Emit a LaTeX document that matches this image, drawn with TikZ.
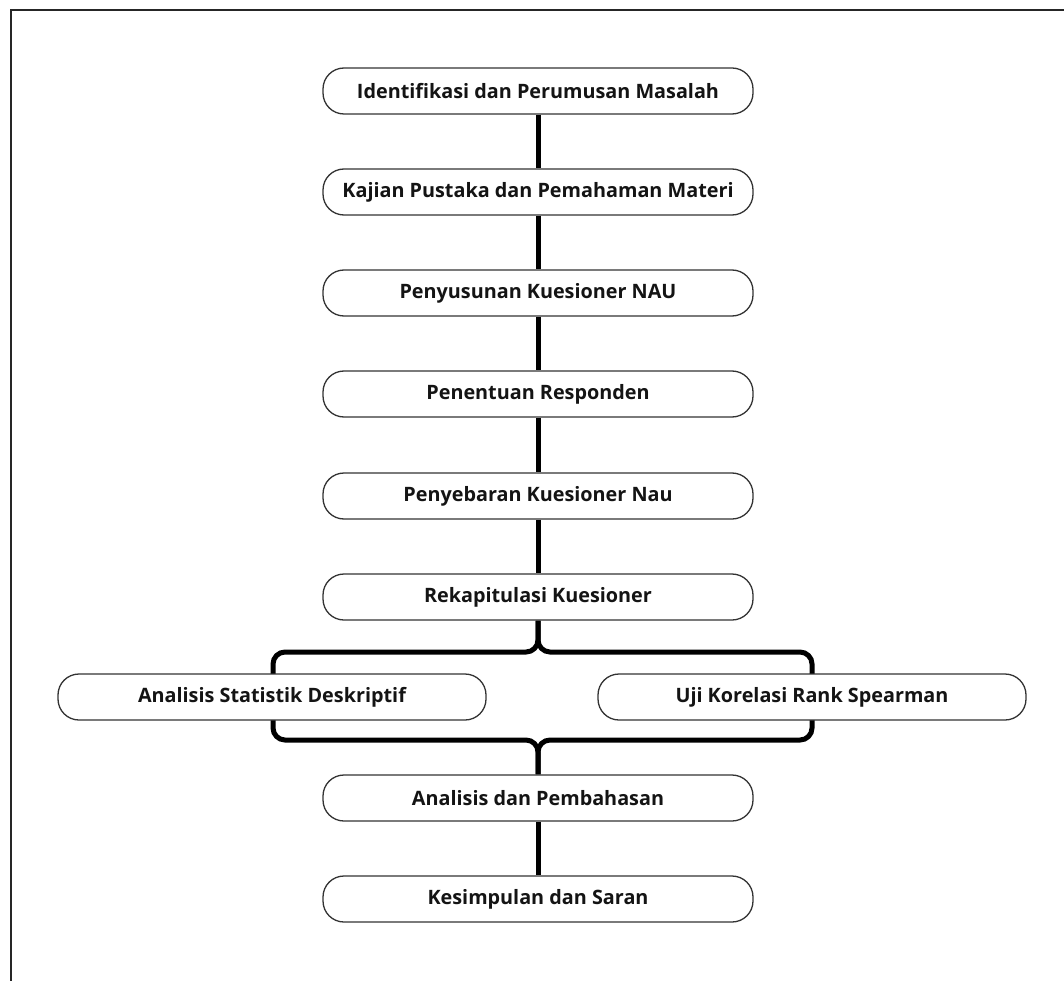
\documentclass[tikz,border=0pt]{standalone}
\usepackage{fontspec}
\setmainfont{Open Sans}
\usetikzlibrary{backgrounds}
\begin{document}
\begin{tikzpicture}[x=1pt,y=-1pt,
  stepbox/.style={draw=black!80, line width=1.3pt, fill=white, rounded corners=21pt,
    minimum width=430pt, minimum height=46pt, inner sep=0pt,
    font=\fontsize{19.8}{23}\selectfont\bfseries, text=black!92},
  link/.style={line width=5pt, black},
  fork/.style={line width=5pt, black, rounded corners=12pt}]
\useasboundingbox (0,0) rectangle (1064,981);
\draw[line width=2pt, black!85] (1064,10) -- (11,10) -- (11,981);

\node[stepbox] (n1) at (538,91) {Identifikasi dan Perumusan Masalah};
\node[stepbox] (n2) at (538,192) {Kajian Pustaka dan Pemahaman Materi};
\node[stepbox] (n3) at (538,293) {Penyusunan Kuesioner NAU};
\node[stepbox] (n4) at (538,394) {Penentuan Responden};
\node[stepbox] (n5) at (538,496) {Penyebaran Kuesioner Nau};
\node[stepbox] (n6) at (538,597) {Rekapitulasi Kuesioner};
\node[stepbox, minimum width=428pt] (la) at (272,697) {Analisis Statistik Deskriptif};
\node[stepbox, minimum width=428pt] (ra) at (812,697) {Uji Korelasi Rank Spearman};
\node[stepbox] (n8) at (538,798) {Analisis dan Pembahasan};
\node[stepbox] (n9) at (538,899) {Kesimpulan dan Saran};

\coordinate (ft) at (538,652);
\coordinate (fb) at (538,740);
\begin{scope}[on background layer]
\draw[link] (n1) -- (n2);
\draw[link] (n2) -- (n3);
\draw[link] (n3) -- (n4);
\draw[link] (n4) -- (n5);
\draw[link] (n5) -- (n6);
\draw[link] (n8) -- (n9);
\draw[fork] (n6.south) -- (ft) -- (273,652) -- (273,740) -- (fb) -- (n8.north);
\draw[fork] (n6.south) -- (ft) -- (812,652) -- (812,740) -- (fb) -- (n8.north);
\end{scope}
\end{tikzpicture}
\end{document}
